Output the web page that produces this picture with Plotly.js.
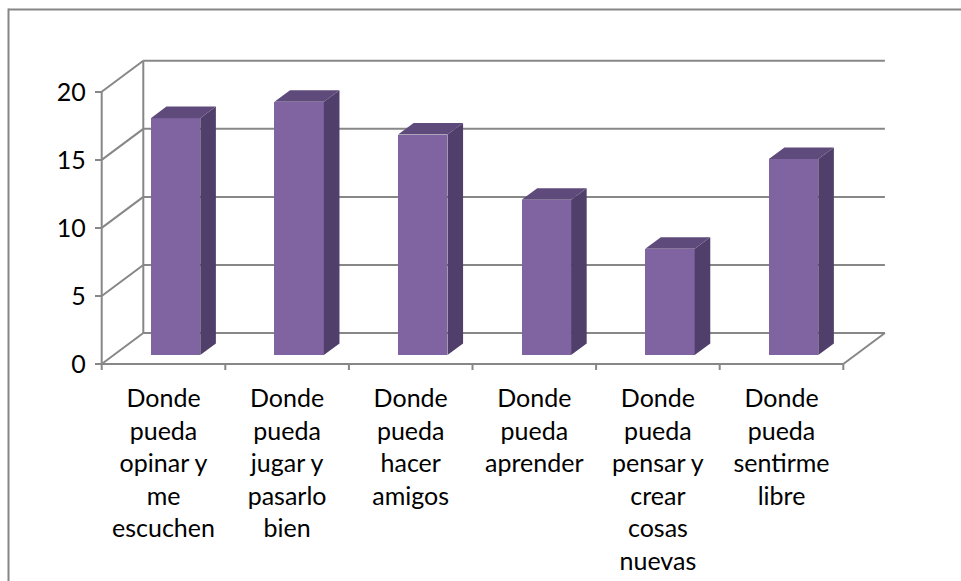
<!DOCTYPE html>
<html>
<head>
<meta charset="utf-8">
<script src="https://cdn.plot.ly/plotly-3.0.1.min.js"></script>
<style>
html,body{margin:0;padding:0;background:#fff;}
#chart{width:961px;height:581px;}
</style>
</head>
<body>
<div id="chart"></div>
<script>
// ---- data ----
const categories = [
  "Donde pueda opinar y me escuchen",
  "Donde pueda jugar y pasarlo bien",
  "Donde pueda hacer amigos",
  "Donde pueda aprender",
  "Donde pueda pensar y crear cosas nuevas",
  "Donde pueda sentirme libre"
];
const tickLabels = [
  "Donde<br>pueda<br>opinar y<br>me<br>escuchen",
  "Donde<br>pueda<br>jugar y<br>pasarlo<br>bien",
  "Donde<br>pueda<br>hacer<br>amigos",
  "Donde<br>pueda<br>aprender",
  "Donde<br>pueda<br>pensar y<br>crear<br>cosas<br>nuevas",
  "Donde<br>pueda<br>sentirme<br>libre"
];
const values = [17.4, 18.6, 16.2, 11.4, 7.8, 14.4];
const yTicks = [0, 5, 10, 15, 20];

// ---- geometry (pixel calibration of the pseudo-3D frame) ----
const W = 961, H = 581;
const M = {l: 90, r: 60, t: 50, b: 200};
const plotW = W - M.l - M.r, plotH = H - M.t - M.b;
const PX0 = 101.7;   // pixel of front-left corner (x = -0.5)
const PXU = 123.6;   // pixels per category
const PY0 = 364;     // pixel of value 0 on front plane
const PYU = 13.61;   // pixels per value unit
const depthX = 41.6 / PXU;   // depth offset in category units
const depthY = 31 / PYU;     // depth offset in value units
const fFront = 0.29;         // depth fraction of bar front face
const gDepth = 0.375;        // depth fraction of bar thickness
const barW = 0.40;
const n = categories.length;
const yMax = yTicks[yTicks.length - 1];

const xRange = [(M.l - PX0) / PXU - 0.5, (M.l + plotW - PX0) / PXU - 0.5];
const yRange = [(PY0 - (M.t + plotH)) / PYU, (PY0 - M.t) / PYU];

const gridColor = "#878787";
const frontColor = "#8064A2";
const sideColor = "#503F6A";
const topColor = "#5F4B7B";

// ---- shapes: walls, gridlines, axis lines ----
const shapes = [];
function seg(x0, y0, x1, y1, w) {
  shapes.push({type: "line", xref: "x", yref: "y", x0, y0, x1, y1, layer: "below",
    line: {color: gridColor, width: w || 2}});
}
const xL = -0.5, xR = n - 0.5;
yTicks.forEach(v => {
  seg(xL, v, xL + depthX, v + depthY);
  seg(xL + depthX, v + depthY, xR + depthX, v + depthY);
});
seg(xL + depthX, depthY, xL + depthX, yMax + depthY);     // back wall left edge
seg(xL, 0, xL, yMax);                                      // y axis line
seg(xL, 0, xR, 0);                                         // x axis line (floor front)
seg(xR, 0, xR + depthX, depthY);                           // floor right edge
for (let i = 0; i <= n; i++) {                              // category boundary ticks
  shapes.push({type: "line", xref: "x", yref: "y", x0: i - 0.5, x1: i - 0.5,
    y0: 0, y1: -6 / PYU, layer: "below", line: {color: gridColor, width: 2}});
}
// outer chart border (only top and left edges are visible in the frame)
const py2paper = py => (M.t + plotH - py) / plotH;
const px2paper = px => (px - M.l) / plotW;
shapes.push({type: "line", xref: "paper", yref: "paper",
  x0: px2paper(8.5), x1: px2paper(W + 5), y0: py2paper(9.5), y1: py2paper(9.5),
  line: {color: "#868686", width: 2}, layer: "below"});
shapes.push({type: "line", xref: "paper", yref: "paper",
  x0: px2paper(8.5), x1: px2paper(8.5), y0: py2paper(8.5), y1: py2paper(H + 5),
  line: {color: "#868686", width: 2}, layer: "below"});

// ---- bar faces ----
const xs = values.map((v, i) => i + fFront * depthX);
const base = values.map(() => fFront * depthY);

const sideX = [], sideY = [], topX = [], topY = [];
values.forEach((v, i) => {
  const xl = xs[i] - barW / 2, xr = xs[i] + barW / 2;
  const b = base[i], t = b + v;
  const ox = gDepth * depthX, oy = gDepth * depthY;
  sideX.push(xr, xr + ox, xr + ox, xr, xr, null);
  sideY.push(b, b + oy, t + oy, t, b, null);
  topX.push(xl, xl + ox, xr + ox, xr, xl, null);
  topY.push(t, t + oy, t + oy, t, t, null);
});

const traces = [
  {type: "bar", x: xs, y: values, base: base, width: barW,
   marker: {color: frontColor, line: {width: 0}}, hoverinfo: "skip", showlegend: false},
  {type: "scatter", mode: "lines", x: sideX, y: sideY, fill: "toself",
   fillcolor: sideColor, line: {width: 0, color: sideColor}, hoverinfo: "skip", showlegend: false},
  {type: "scatter", mode: "lines", x: topX, y: topY, fill: "toself",
   fillcolor: topColor, line: {width: 0, color: topColor}, hoverinfo: "skip", showlegend: false}
];

const font = {family: "Lato, 'Open Sans', sans-serif", size: 25, color: "#000"};

const layout = {
  width: W, height: H,
  margin: M,
  paper_bgcolor: "#fff", plot_bgcolor: "rgba(0,0,0,0)",
  showlegend: false,
  font: font,
  xaxis: {
    range: xRange, anchor: "free", position: py2paper(PY0),
    tickmode: "array", tickvals: categories.map((c, i) => i), ticktext: tickLabels,
    ticks: "", showgrid: false, zeroline: false, showline: false,
    ticklabelstandoff: 17, tickfont: font, fixedrange: true
  },
  yaxis: {
    range: yRange, anchor: "free", position: px2paper(PX0),
    tickmode: "array", tickvals: yTicks, ticktext: yTicks.map(String),
    ticks: "outside", ticklen: 7, tickwidth: 2, tickcolor: gridColor,
    showgrid: false, zeroline: false, showline: false,
    ticklabelstandoff: 4, tickfont: font, fixedrange: true
  },
  shapes: shapes,
  bargap: 0
};

Plotly.newPlot("chart", traces, layout, {displayModeBar: false, staticPlot: true});
</script>
</body>
</html>
